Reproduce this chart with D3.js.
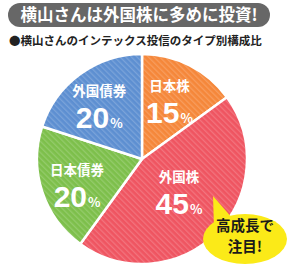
<!DOCTYPE html>
<html lang="ja">
<head>
<meta charset="UTF-8">
<script src="https://d3js.org/d3.v7.min.js"></script>
<style>
  body, html { margin: 0; padding: 0; background: #fff; overflow: hidden; }
  svg { display: block; }
  text { font-family: "Noto Sans CJK JP", sans-serif; font-weight: bold; }
</style>
</head>
<body>
<svg id="chart" width="300" height="273"></svg>
<script>
// data
const categories = ['日本株', '外国株', '日本債券', '外国債券'];
const shares = [15, 45, 20, 20];
const colors = ['#f5873a', '#ef5561', '#7dbf4b', '#5d8fd1'];
const title = '横山さんは外国株に多めに投資!';
const subtitle = '●横山さんのインテックス投信のタイプ別構成比';
const callout = ['高成長で', '注目!'];

const svg = d3.select('#chart');
const cx = 142, cy = 159, r = 105;

// stripe pattern per slice
const defs = svg.append('defs');
colors.forEach((c, i) => {
  const p = defs.append('pattern')
    .attr('id', 'st' + i)
    .attr('width', 4).attr('height', 4)
    .attr('patternUnits', 'userSpaceOnUse')
    .attr('patternTransform', 'rotate(-45)');
  p.append('rect').attr('width', 4).attr('height', 4).attr('fill', c);
  p.append('rect').attr('width', 1.3).attr('height', 4).attr('fill', 'rgba(255,255,255,0.18)');
});

// title pill
svg.append('rect')
  .attr('x', 8).attr('y', 3).attr('width', 262).attr('height', 24)
  .attr('rx', 12).attr('fill', '#676767');
svg.append('text')
  .attr('x', 139).attr('y', 21).attr('text-anchor', 'middle')
  .attr('fill', '#fff').attr('font-size', 16.5)
  .text(title);
svg.append('text')
  .attr('x', 9).attr('y', 45)
  .attr('fill', '#222').attr('font-size', 11.5)
  .text(subtitle);

// pie
const pie = d3.pie().sort(null).value(d => d)(shares);
const arc = d3.arc().innerRadius(0).outerRadius(r);
const g = svg.append('g').attr('transform', `translate(${cx},${cy})`);
g.selectAll('path').data(pie).enter().append('path')
  .attr('d', arc)
  .attr('fill', (d, i) => `url(#st${i})`)
  .attr('stroke', '#fff').attr('stroke-width', 2.5).attr('stroke-linejoin', 'round');

// labels, placed off each slice's centroid (name + big percent)
const labelArc = d3.arc().innerRadius(r * 0.5).outerRadius(r * 0.82);
const nudge = [[-4, 1], [-12, -19], [1, 2], [-2, 1]];
const lab = g.selectAll('text.lab').data(pie).enter().append('text')
  .attr('class', 'lab')
  .attr('text-anchor', 'middle')
  .attr('fill', '#fff')
  .attr('transform', (d, i) => {
    const [x, y] = labelArc.centroid(d);
    return `translate(${x + nudge[i][0]},${y + nudge[i][1]})`;
  });
lab.append('tspan')
  .attr('x', 0).attr('y', -7.5)
  .attr('font-size', 13.5)
  .text((d, i) => categories[i]);
lab.append('tspan')
  .attr('x', 0).attr('y', 24.5)
  .style('font-family', '"Liberation Sans Narrow", "Liberation Sans", sans-serif')
  .attr('font-size', 30).text(d => d.data);
lab.append('tspan')
  .attr('font-size', 13).attr('dx', 1).text('%');

// callout bubble
const bx = 245, by = 239;
svg.append('path')
  .attr('d', `M${bx - 31},${by - 12} L${bx - 32},${by - 43} L${bx - 12},${by - 20} Z`)
  .attr('fill', '#fbea18');
svg.append('ellipse')
  .attr('cx', bx).attr('cy', by).attr('rx', 42).attr('ry', 25)
  .attr('fill', '#fbea18');
svg.append('text')
  .attr('text-anchor', 'middle')
  .attr('font-size', 14.5).attr('fill', '#1a1a1a')
  .selectAll('tspan').data(callout).enter().append('tspan')
  .attr('x', bx).attr('y', (d, i) => by - 8 + i * 21.2)
  .text(d => d);
</script>
</body>
</html>
